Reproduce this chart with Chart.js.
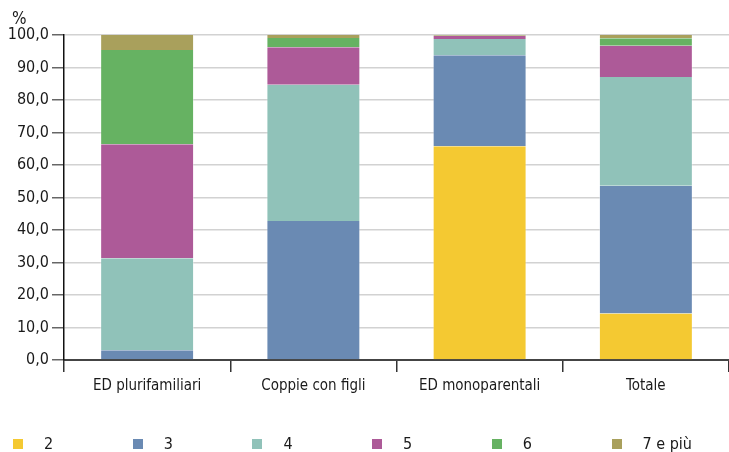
<!DOCTYPE html>
<html>
<head>
<meta charset="utf-8">
<script src="https://cdn.jsdelivr.net/npm/chart.js@4/dist/chart.umd.min.js"></script>
<style>
  html, body { margin: 0; padding: 0; background: #fff; }
  #wrap { position: relative; width: 729px; height: 452px; font-family: "Liberation Sans Narrow", "DejaVu Sans Condensed", "Arial Narrow", sans-serif; color: #1a1a1a; }
  #unit { position: absolute; left: 12px; top: 8px; font-size: 17px; }
  #legend { position: absolute; left: 0; top: 434px; width: 729px; height: 18px; }
  .item { position: absolute; top: 0; display: flex; align-items: center; font-size: 16px; }
  .sw { width: 10px; height: 10px; margin-right: 21px; }
</style>
</head>
<body>
<div id="wrap">
  <canvas id="chart" width="729" height="452"></canvas>
  <div id="unit">%</div>
  <div id="legend"></div>
</div>
<script>
// ── data ─────────────────────────────────────────────────────────────────────
const categories = ['ED plurifamiliari', 'Coppie con figli', 'ED monoparentali', 'Totale'];
const seriesNames = ['2', '3', '4', '5', '6', '7 e più'];
const colors = ['#F4C932', '#6A8AB3', '#90C2B9', '#AD5A98', '#66B262', '#A9A05C'];

const s2    = [0.0,  0.0, 65.8, 14.3];
const s3    = [3.0, 42.8, 28.0, 39.3];
const s4    = [28.3, 41.9, 5.0, 33.5];
const s5    = [35.1, 11.5, 0.9,  9.6];
const s6    = [29.0,  2.9, 0.1,  2.3];
const s7    = [4.6,   0.9, 0.2,  1.0];

const yTicks = [0, 10, 20, 30, 40, 50, 60, 70, 80, 90, 100];

const FONT = '"Liberation Sans Narrow", "DejaVu Sans Condensed", "Arial Narrow", sans-serif';

const values = [s2, s3, s4, s5, s6, s7];
const datasets = values.map((v, i) => ({
  label: seriesNames[i],
  data: v,
  backgroundColor: colors[i],
  borderColor: 'rgba(255,255,255,0.35)',
  borderWidth: { left: 1, right: 1, top: 0, bottom: 0 },
  borderSkipped: false,
  categoryPercentage: 1,
  barPercentage: 0.565,
}));

new Chart(document.getElementById('chart'), {
  type: 'bar',
  data: { labels: categories, datasets },
  options: {
    responsive: false,
    animation: false,
    layout: { padding: { top: 35, right: 0, bottom: 52, left: 0 } },
    plugins: { legend: { display: false }, tooltip: { enabled: false } },
    scales: {
      x: {
        stacked: true,
        grid: { offset: true, drawOnChartArea: false, tickLength: 12, tickColor: '#333', lineWidth: 1.5 },
        border: { color: '#444', width: 2 },
        ticks: { color: '#1a1a1a', font: { family: FONT, size: 15 }, padding: 5 },
        afterFit: s => { s.height = 40; },
      },
      y: {
        stacked: true,
        min: 0,
        max: 100,
        afterBuildTicks: s => { s.ticks = yTicks.map(v => ({ value: v })); },
        grid: { color: '#d2d2d2', lineWidth: 1.5, tickLength: 12, tickColor: '#666' },
        border: { color: '#111', width: 1.5 },
        ticks: {
          color: '#1a1a1a',
          font: { family: FONT, size: 16 },
          padding: 3,
          callback: v => v.toFixed(1).replace('.', ','),
        },
        afterFit: s => { s.width = 64; },
      },
    },
  },
});

// legend, evenly spaced like the original
const legend = document.getElementById('legend');
seriesNames.forEach((name, i) => {
  const el = document.createElement('div');
  el.className = 'item';
  el.style.left = (13 + i * 119.7) + 'px';
  el.innerHTML = `<span class="sw" style="background:${colors[i]}"></span><span>${name}</span>`;
  legend.appendChild(el);
});
</script>
</body>
</html>
